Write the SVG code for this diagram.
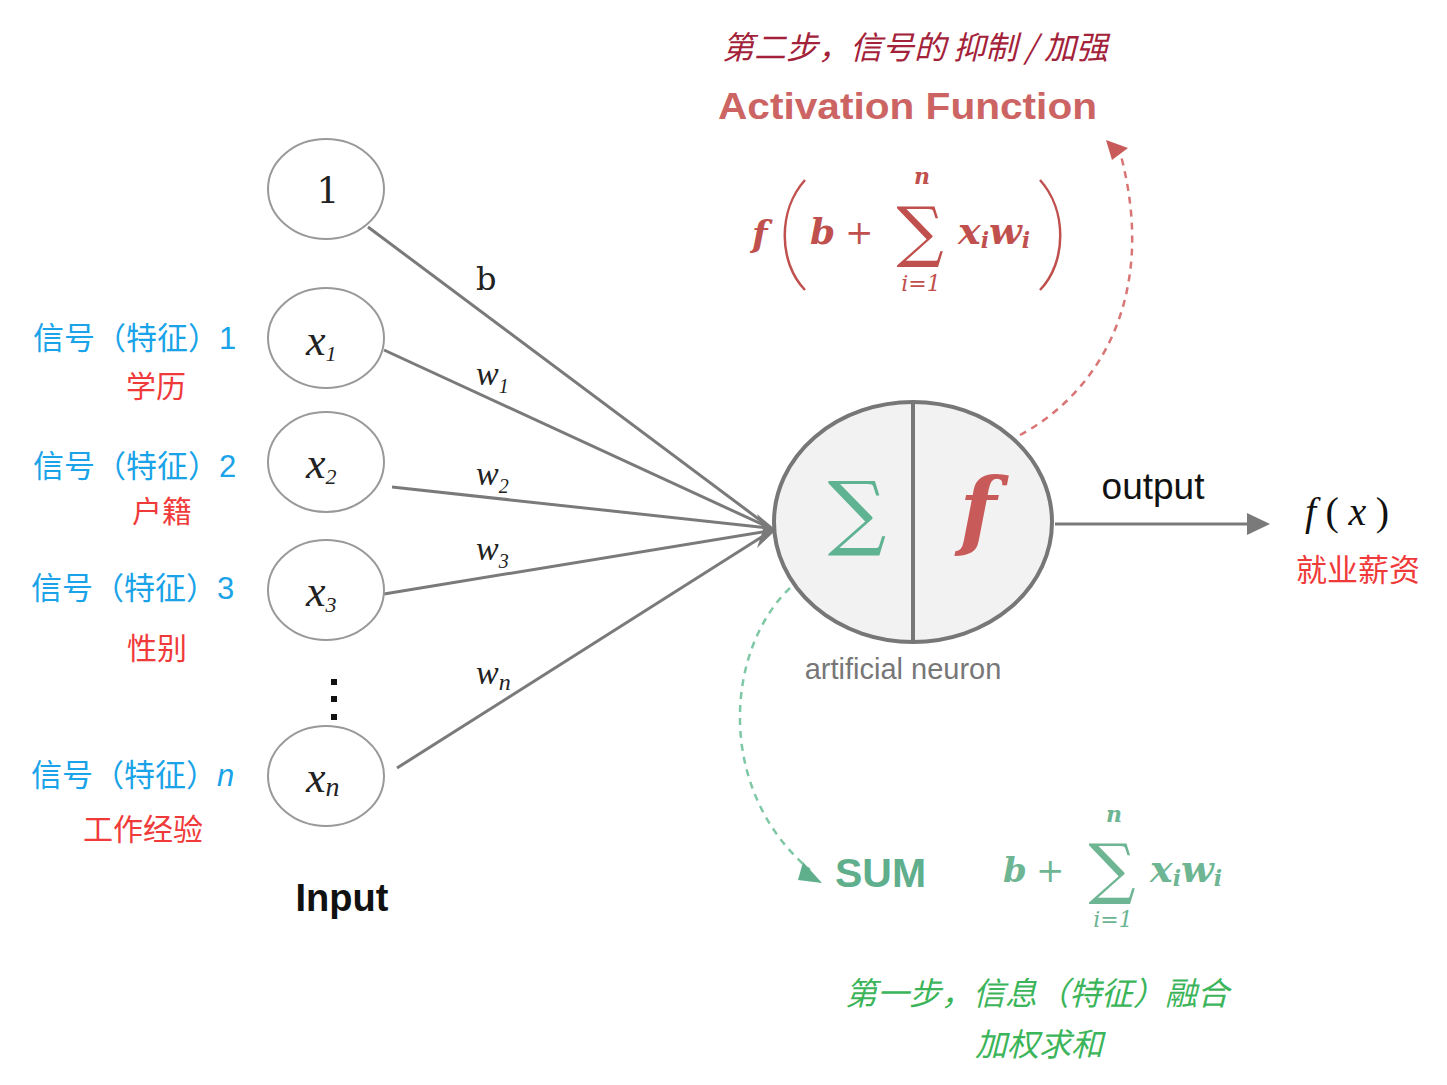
<svg xmlns="http://www.w3.org/2000/svg" width="1447" height="1085" viewBox="0 0 1447 1085">
<defs>
<style>
.inode{fill:#fff;stroke:#999;stroke-width:2}
.edge{stroke:#7a7a7a;stroke-width:3;fill:none}
.ser{font-family:"DejaVu Serif","Liberation Serif",serif}
.math{font-family:"Liberation Serif","DejaVu Serif",serif;font-style:italic}
.cjk{font-family:"Noto Sans CJK SC","Noto Sans",sans-serif}
.sans{font-family:"Liberation Sans","Noto Sans",sans-serif}
.blue{fill:#1aa3e8;font-size:31px}
.red{fill:#f03a3a;font-size:30px}
.wl{font-size:34px;fill:#222}
</style>
</defs>
<rect width="1447" height="1085" fill="#fff"/>

<g id="connectors">
<line class="edge" x1="368" y1="227" x2="768" y2="526"/>
<line class="edge" x1="384" y1="350" x2="768" y2="527"/>
<line class="edge" x1="392" y1="487" x2="768" y2="528"/>
<line class="edge" x1="384" y1="594" x2="768" y2="531"/>
<line class="edge" x1="397" y1="768" x2="768" y2="533"/>
<polygon points="757,514 776,530 757,548 763,530" fill="#7a7a7a"/>
<line class="edge" x1="1055" y1="524" x2="1250" y2="524"/>
<polygon points="1247,513 1270,524 1247,535" fill="#7a7a7a"/>
<path d="M1020,435 C1095,395 1160,300 1120,152" fill="none" stroke="#d97575" stroke-width="2.5" stroke-dasharray="7,6"/>
<polygon points="1106,140 1128,148 1112,160" fill="#c85a5a"/>
<path d="M790,588 C725,650 715,790 810,870" fill="none" stroke="#7fc8a5" stroke-width="2.5" stroke-dasharray="7,6"/>
<polygon points="803,862 822,883 798,880" fill="#5fae8c"/>
<text class="ser" x="476" y="290" font-size="32" fill="#222">b</text>
<text class="math wl" x="476" y="385">w<tspan font-size="20" dy="8">1</tspan></text>
<text class="math wl" x="476" y="485">w<tspan font-size="20" dy="8">2</tspan></text>
<text class="math wl" x="476" y="560">w<tspan font-size="20" dy="8">3</tspan></text>
<text class="math wl" x="476" y="684">w<tspan font-size="24" dy="6">n</tspan></text>
</g>

<g id="node-bias">
<ellipse class="inode" cx="326" cy="189" rx="58" ry="50"/>
<text class="ser" x="328" y="203" font-size="36" text-anchor="middle" fill="#222">1</text>
</g>
<g id="node-x1">
<ellipse class="inode" cx="326" cy="338" rx="58" ry="50"/>
<text class="math" x="306" y="355" font-size="44" fill="#222">x<tspan font-size="22" dy="6">1</tspan></text>
</g>
<g id="node-x2">
<ellipse class="inode" cx="326" cy="462" rx="58" ry="50"/>
<text class="math" x="306" y="478" font-size="44" fill="#222">x<tspan font-size="22" dy="6">2</tspan></text>
</g>
<g id="node-x3">
<ellipse class="inode" cx="326" cy="590" rx="58" ry="50"/>
<text class="math" x="306" y="606" font-size="44" fill="#222">x<tspan font-size="22" dy="6">3</tspan></text>
</g>
<g id="dots">
<rect x="331" y="679" width="6" height="6" fill="#111"/>
<rect x="331" y="696" width="6" height="6" fill="#111"/>
<rect x="331" y="714" width="6" height="6" fill="#111"/>
</g>
<g id="node-xn">
<ellipse class="inode" cx="326" cy="776" rx="58" ry="50"/>
<text class="math" x="306" y="792" font-size="44" fill="#222">x<tspan font-size="28" dy="4">n</tspan></text>
</g>
<g id="label-input">
<text class="sans" x="342" y="911" font-size="38" font-weight="bold" text-anchor="middle" fill="#111">Input</text>
</g>

<g id="feature-labels">
<text class="cjk blue" x="33" y="349">信号（特征）<tspan class="sans">1</tspan></text>
<text class="cjk red" x="126" y="397">学历</text>
<text class="cjk blue" x="33" y="477">信号（特征）<tspan class="sans">2</tspan></text>
<text class="cjk red" x="132" y="522">户籍</text>
<text class="cjk blue" x="31" y="599">信号（特征）<tspan class="sans">3</tspan></text>
<text class="cjk red" x="127" y="659">性别</text>
<text class="cjk blue" x="31" y="786">信号（特征）<tspan class="sans" font-style="italic">n</tspan></text>
<text class="cjk red" x="83" y="840">工作经验</text>
</g>

<g id="neuron">
<ellipse cx="913" cy="522" rx="139" ry="120" fill="#f2f2f2" stroke="#777" stroke-width="4"/>
<line x1="913" y1="402" x2="913" y2="642" stroke="#777" stroke-width="4"/>
<text class="ser" x="857" y="540" font-size="82" text-anchor="middle" fill="#5fb393">∑</text>
<text class="ser" x="978" y="540" font-size="86" font-weight="bold" font-style="italic" text-anchor="middle" fill="#c85a5a">f</text>
<text class="sans" x="903" y="679" font-size="29" text-anchor="middle" fill="#777">artificial neuron</text>
</g>

<g id="output">
<text class="sans" x="1153" y="499" font-size="37" text-anchor="middle" fill="#111">output</text>
<text class="math" x="1305" y="525" font-size="40" fill="#111" textLength="84" lengthAdjust="spacing">f<tspan font-style="normal">(</tspan>x<tspan font-style="normal">)</tspan></text>
<text class="cjk" x="1296" y="581" font-size="31" fill="#f03a3a">就业薪资</text>
</g>

<g id="activation">
<text class="cjk" x="722" y="59" font-size="32" font-style="italic" fill="#a3223a">第二步，信号的 抑制 / 加强</text>
<text class="sans" x="718" y="119" font-size="37" font-weight="bold" fill="#cc6464" textLength="379" lengthAdjust="spacingAndGlyphs">Activation Function</text>
<g fill="#c0504d" class="ser">
<text x="752" y="246" font-size="36" font-weight="bold" font-style="italic">f</text>
<path d="M805,180 C778,210 778,262 805,290" fill="none" stroke="#c0504d" stroke-width="2.5"/>
<text x="810" y="244" font-size="36" font-weight="bold" font-style="italic">b</text>
<text x="845" y="244" font-size="34">+</text>
<text x="920" y="254" font-size="66" text-anchor="middle">∑</text>
<text x="922" y="184" font-size="22" font-weight="bold" font-style="italic" text-anchor="middle">n</text>
<text x="921" y="291" font-size="22" font-style="italic" text-anchor="middle">i=1</text>
<text x="958" y="244" font-size="38" font-weight="bold" font-style="italic">x<tspan font-size="22" dy="4">i</tspan><tspan dy="-4">w</tspan><tspan font-size="22" dy="4">i</tspan></text>
<path d="M1040,180 C1067,210 1067,262 1040,290" fill="none" stroke="#c0504d" stroke-width="2.5"/>
</g>
</g>

<g id="sum">
<text class="sans" x="835" y="887" font-size="41" font-weight="bold" fill="#5fae8c">SUM</text>
<g fill="#6db593" class="ser">
<text x="1003" y="882" font-size="34" font-weight="bold" font-style="italic">b</text>
<text x="1036" y="882" font-size="34">+</text>
<text x="1112" y="891" font-size="66" text-anchor="middle">∑</text>
<text x="1114" y="822" font-size="22" font-weight="bold" font-style="italic" text-anchor="middle">n</text>
<text x="1113" y="927" font-size="22" font-style="italic" text-anchor="middle">i=1</text>
<text x="1150" y="882" font-size="38" font-weight="bold" font-style="italic">x<tspan font-size="22" dy="4">i</tspan><tspan dy="-4">w</tspan><tspan font-size="22" dy="4">i</tspan></text>
</g>
<text class="cjk" x="845" y="1005" font-size="32" font-style="italic" fill="#3cb55a">第一步，信息（特征）融合</text>
<text class="cjk" x="975" y="1056" font-size="32" font-style="italic" fill="#3cb55a">加权求和</text>
</g>
</svg>
